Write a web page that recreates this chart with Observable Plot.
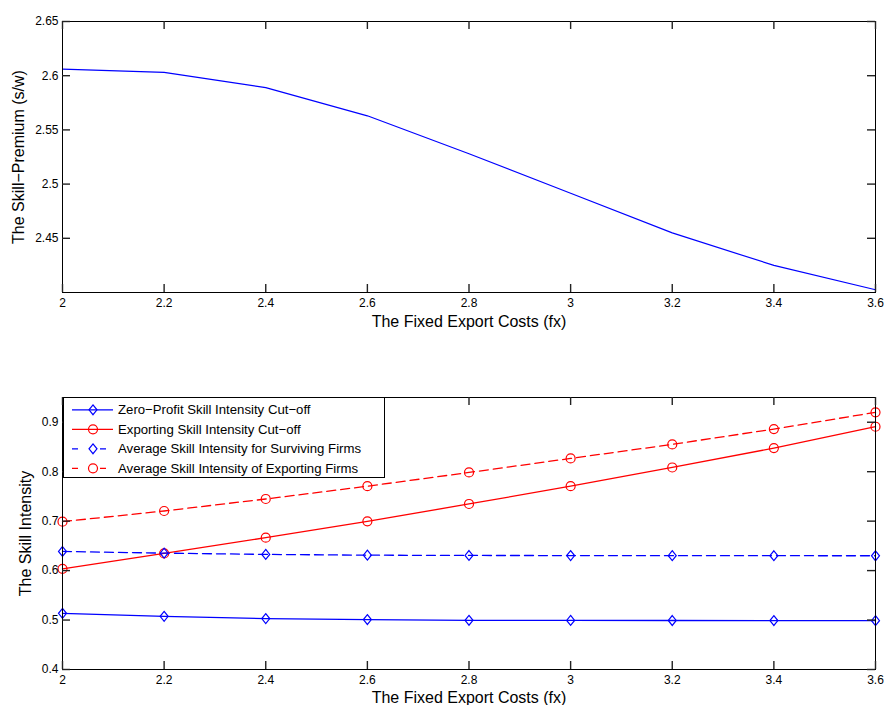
<!DOCTYPE html>
<html>
<head>
<meta charset="utf-8">
<script src="https://cdn.jsdelivr.net/npm/d3@7"></script>
<script src="https://cdn.jsdelivr.net/npm/@observablehq/plot@0.6"></script>
<style>
  html, body { margin: 0; padding: 0; background: #fff; }
  #wrap { position: relative; width: 886px; height: 705px; overflow: hidden; font-family: "Liberation Sans", Arial, Helvetica, sans-serif; }
  #wrap svg { display: block; }
  #legend { position: absolute; left: 63px; top: 397px; width: 322px; height: 81px; background: #fff; border: 1px solid #000; box-sizing: border-box; }
</style>
</head>
<body>
<div id="wrap"></div>
<script>
// ---- data ----
const fx = [2, 2.2, 2.4, 2.6, 2.8, 3.0, 3.2, 3.4, 3.6];
const skillPremium = [2.606, 2.603, 2.589, 2.563, 2.528, 2.4915, 2.455, 2.425, 2.4025];

const zeroProfitCutoff = [0.5136, 0.5075, 0.503, 0.501, 0.4995, 0.4993, 0.4991, 0.499, 0.4988];
const exportCutoff     = [0.6036, 0.6347, 0.6665, 0.6996, 0.7347, 0.7706, 0.8085, 0.8477, 0.8909];
const avgSurviving     = [0.6387, 0.6353, 0.6327, 0.6312, 0.6306, 0.6304, 0.6302, 0.6301, 0.6300];
const avgExporting     = [0.699, 0.7205, 0.7448, 0.7706, 0.7984, 0.8268, 0.8552, 0.8862, 0.920];

const seriesNames = [
  "Zero−Profit Skill Intensity Cut−off",
  "Exporting Skill Intensity Cut−off",
  "Average Skill Intensity for Surviving Firms",
  "Average Skill Intensity of Exporting Firms"
];
const seriesColors = ["#0000ff", "#ff0000", "#0000ff", "#ff0000"];
const seriesDash = [null, null, "9,5", "9,5"];
const seriesMarker = ["diamond", "circle", "diamond", "circle"];

const xTicks = [2, 2.2, 2.4, 2.6, 2.8, 3, 3.2, 3.4, 3.6];
const yTicksTop = [2.45, 2.5, 2.55, 2.6, 2.65];
const yTicksBottom = [0.4, 0.5, 0.6, 0.7, 0.8, 0.9];

const xTitle = "The Fixed Export Costs (fx)";
const yTitleTop = "The Skill−Premium (s/w)";
const yTitleBottom = "The Skill Intensity";

// ---- helpers ----
const FONT = "Liberation Sans, Arial, Helvetica, sans-serif";
const fmt = d => String(d);
const diamondSymbol = {
  draw(ctx, size) {
    const s = Math.sqrt(size);
    const h = s * 0.62, w = s * 0.5;
    ctx.moveTo(0, -h); ctx.lineTo(w, 0); ctx.lineTo(0, h); ctx.lineTo(-w, 0); ctx.closePath();
  }
};
const symbolFor = m => m === "diamond" ? diamondSymbol : "circle";

const W = 886, ML = 62, MR = 11;
const TK = 8;

// inward tick marks: ticks generated from the tick arrays, one row per tick and side
function tickRows(yTicks) {
  return [
    ...xTicks.map(v => ({v, side: "bottom"})),
    ...xTicks.map(v => ({v, side: "top"})),
    ...yTicks.map(v => ({v, side: "left"})),
    ...yTicks.map(v => ({v, side: "right"}))
  ];
}
function inwardTicks(yTicks) {
  const rows = tickRows(yTicks);
  return [
    Plot.tickX(rows.filter(r => r.side === "bottom"), {x: "v", stroke: "#222", strokeWidth: 1.4, insetTop: 0, render: (I, s, v, d, c, next) => { const g = next(I, s, v, d, c); d3.select(g).selectAll("line").attr("y1", d.height - d.marginBottom - TK).attr("y2", d.height - d.marginBottom); return g; }}),
    Plot.tickX(rows.filter(r => r.side === "top"), {x: "v", stroke: "#222", strokeWidth: 1.4, render: (I, s, v, d, c, next) => { const g = next(I, s, v, d, c); d3.select(g).selectAll("line").attr("y1", d.marginTop).attr("y2", d.marginTop + TK); return g; }}),
    Plot.tickY(rows.filter(r => r.side === "left"), {y: "v", stroke: "#222", strokeWidth: 1.4, render: (I, s, v, d, c, next) => { const g = next(I, s, v, d, c); d3.select(g).selectAll("line").attr("x1", d.marginLeft).attr("x2", d.marginLeft + TK); return g; }}),
    Plot.tickY(rows.filter(r => r.side === "right"), {y: "v", stroke: "#222", strokeWidth: 1.4, render: (I, s, v, d, c, next) => { const g = next(I, s, v, d, c); d3.select(g).selectAll("line").attr("x1", d.width - d.marginRight - TK).attr("x2", d.width - d.marginRight); return g; }})
  ];
}

function axes(yTicks) {
  return [
    Plot.frame({stroke: "#000", strokeWidth: 1}),
    ...inwardTicks(yTicks),
    Plot.axisX({ticks: xTicks, anchor: "bottom", tickSize: 0, tickPadding: 6, tickFormat: fmt, fontSize: 12, fill: "#000", label: null}),
    Plot.axisY({ticks: yTicks, anchor: "left", tickSize: 0, tickPadding: 4, tickFormat: fmt, fontSize: 12, fill: "#000", label: null})
  ];
}

const xDomain = [2, 3.6];
const yDomainTop = [2.4, 2.65];
const yDomainBottom = [0.4, 0.95];

// ---- top chart ----
const topData = fx.map((x, i) => ({x, y: skillPremium[i]}));
const chartTop = Plot.plot({
  width: W, height: 340,
  marginLeft: ML, marginRight: MR, marginTop: 21, marginBottom: 48,
  style: {fontFamily: FONT, color: "#000", background: "#fff"},
  x: {domain: xDomain},
  y: {domain: yDomainTop},
  marks: [
    Plot.line(topData, {x: "x", y: "y", stroke: "#0000ff", strokeWidth: 1.2}),
    ...axes(yTicksTop),
    Plot.text([xTitle], {frameAnchor: "bottom", dy: 29, lineAnchor: "middle", fontSize: 16}),
    Plot.text([yTitleTop], {frameAnchor: "left", dx: -44, rotate: -90, lineAnchor: "middle", textAnchor: "middle", fontSize: 16})
  ]
});

// ---- bottom chart ----
const bottomSeries = [zeroProfitCutoff, exportCutoff, avgSurviving, avgExporting];
const bottomData = bottomSeries.flatMap((vals, s) => fx.map((x, i) => ({x, y: vals[i], s})));
const bottomMarks = [];
bottomSeries.forEach((vals, s) => {
  const d = bottomData.filter(r => r.s === s);
  bottomMarks.push(Plot.line(d, {x: "x", y: "y", stroke: seriesColors[s], strokeWidth: 1.3, strokeDasharray: seriesDash[s]}));
  bottomMarks.push(Plot.dot(d, {x: "x", y: "y", stroke: seriesColors[s], strokeWidth: 1.2, fill: "none", r: 4.5, symbol: symbolFor(seriesMarker[s])}));
});
const chartBottom = Plot.plot({
  width: W, height: 365,
  marginLeft: ML, marginRight: MR, marginTop: 57, marginBottom: 36,
  style: {fontFamily: FONT, color: "#000", background: "#fff"},
  x: {domain: xDomain},
  y: {domain: yDomainBottom},
  marks: [
    ...bottomMarks,
    ...axes(yTicksBottom),
    Plot.text([xTitle], {frameAnchor: "bottom", dy: 28, lineAnchor: "middle", fontSize: 16}),
    Plot.text([yTitleBottom], {frameAnchor: "left", dx: -37, rotate: -90, lineAnchor: "middle", textAnchor: "middle", fontSize: 16})
  ]
});

const wrap = document.getElementById("wrap");
wrap.appendChild(chartTop);
wrap.appendChild(chartBottom);

// ---- legend ----
const legend = document.createElement("div");
legend.id = "legend";
const ns = "http://www.w3.org/2000/svg";
const lsvg = document.createElementNS(ns, "svg");
lsvg.setAttribute("width", 322); lsvg.setAttribute("height", 81);
lsvg.style.fontFamily = FONT;
seriesNames.forEach((name, s) => {
  const cy = 11.8 + s * 19.5;
  const path = document.createElementNS(ns, "path");
  path.setAttribute("d", `M8,${cy}H49`);
  path.setAttribute("stroke", seriesColors[s]);
  path.setAttribute("stroke-width", 1.3);
  path.setAttribute("fill", "none");
  if (seriesDash[s]) path.setAttribute("stroke-dasharray", "6,22,6,7");
  lsvg.appendChild(path);
  const m = document.createElementNS(ns, "path");
  const p = d3.path();
  if (seriesMarker[s] === "diamond") diamondSymbol.draw(p, Math.PI * 4.5 * 4.5);
  else p.arc(0, 0, 4.5, 0, 2 * Math.PI);
  m.setAttribute("d", p.toString());
  m.setAttribute("transform", `translate(29,${cy})`);
  m.setAttribute("stroke", seriesColors[s]);
  m.setAttribute("stroke-width", 1.2);
  m.setAttribute("fill", "none");
  lsvg.appendChild(m);
  const t = document.createElementNS(ns, "text");
  t.setAttribute("x", 54); t.setAttribute("y", cy);
  t.setAttribute("dy", "0.35em");
  t.setAttribute("font-size", 13.2);
  t.setAttribute("fill", "#000");
  t.textContent = name;
  lsvg.appendChild(t);
});
legend.appendChild(lsvg);
wrap.appendChild(legend);
</script>
</body>
</html>
